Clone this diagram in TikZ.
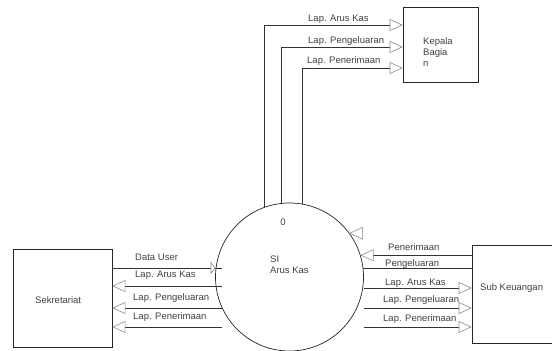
\documentclass[tikz,border=0pt]{standalone}
\usepackage{fontspec}
\setmainfont{Liberation Sans}
\usetikzlibrary{arrows.meta}
\tikzset{
  flow/.style={draw=black!80, line width=0.7pt,
    -{Triangle[open,length=13pt,width=12pt,color=black!45,line width=0.6pt]}},
  line/.style={draw=black!80, line width=0.7pt},
  tiponly/.style={draw=black!45, line width=0.6pt, fill=white},
  ent/.style={draw=black!85, line width=0.7pt, rectangle, inner sep=0pt},
  lbl/.style={anchor=west, inner sep=0pt, text=black!75,
    font=\fontsize{9.5}{11}\selectfont},
}
\begin{document}
\begin{tikzpicture}[x=1pt,y=-1pt]
\useasboundingbox (0,0) rectangle (552,351);
\node[ent, minimum width=75pt, minimum height=75pt] (kepala) at (440.5,44.5) {};
\node[ent, minimum width=99pt, minimum height=98pt] (sekre) at (62.5,298) {};
\node[ent, minimum width=84pt, minimum height=98pt] (subkeu) at (514,294) {};
\node[draw=black!85, line width=0.7pt, circle, minimum size=148pt, inner sep=0pt] (si) at (289.5,277) {};
\node[lbl, align=left] (kepalatxt) at (423,52) {Kepala\\Bagia\\n};
\node[lbl] (sekretxt) at (35,300) {Sekretariat};
\node[lbl] (subkeutxt) at (480,288) {Sub Keuangan};
\node[lbl, anchor=center] (sinum) at (283,222) {0};
\node[lbl, align=left] (sitxt) at (270,264.5) {SI\\Arus Kas};
% ke kepala bagian
\draw[flow] (si.110) |- ([yshift=19.5pt]kepala.west);
\draw[flow] (si.96) |- ([yshift=-2.5pt]kepala.west);
\draw[flow] (si.80) |- ([yshift=-23.5pt]kepala.west);
\node[lbl] (k1) at (308,19) {Lap. Arus Kas};
\node[lbl] (k2) at (308,41) {Lap. Pengeluaran};
\node[lbl] (k3) at (307,61) {Lap. Penerimaan};
% sekretariat
\coordinate (du) at (222,268);
\coordinate (dutip) at (215,268);
\coordinate (s2) at (222,286);
\coordinate (s3) at (222,308);
\coordinate (s4) at (222,327);
\draw[line] (du -| sekre.east) -- (du);
\draw[tiponly] (dutip) -- ++(-4,-5.5) -- ++(0,11) -- cycle;
\draw[flow] (s2) -- (s2 -| sekre.east);
\draw[flow] (s3) -- (s3 -| sekre.east);
\draw[flow] (s4) -- (s4 -| sekre.east);
\node[lbl] (d1) at (135,257) {Data User};
\node[lbl] (d2) at (135,275) {Lap. Arus Kas};
\node[lbl] (d3) at (133,298) {Lap. Pengeluaran};
\node[lbl] (d4) at (133,317) {Lap. Penerimaan};
% sub keuangan
\coordinate (r3) at (364,288);
\coordinate (r4) at (364,308);
\coordinate (r5) at (364,327);
\draw[flow] (si.17 -| subkeu.west) -- (si.17);
\draw[line] (si.7 -| subkeu.west) -- (si.7);
\draw[tiponly] (si.36) -- ++(13,-6) -- ++(0,12) -- cycle;
\draw[flow] (r3) -- (r3 -| subkeu.west);
\draw[flow] (r4) -- (r4 -| subkeu.west);
\draw[flow] (r5) -- (r5 -| subkeu.west);
\node[lbl] (u1) at (388,247) {Penerimaan};
\node[lbl] (u2) at (385,264) {Pengeluaran};
\node[lbl] (u3) at (385,283) {Lap. Arus Kas};
\node[lbl] (u4) at (383,300) {Lap. Pengeluaran};
\node[lbl] (u5) at (383,319) {Lap. Penerimaan};
\end{tikzpicture}
\end{document}
